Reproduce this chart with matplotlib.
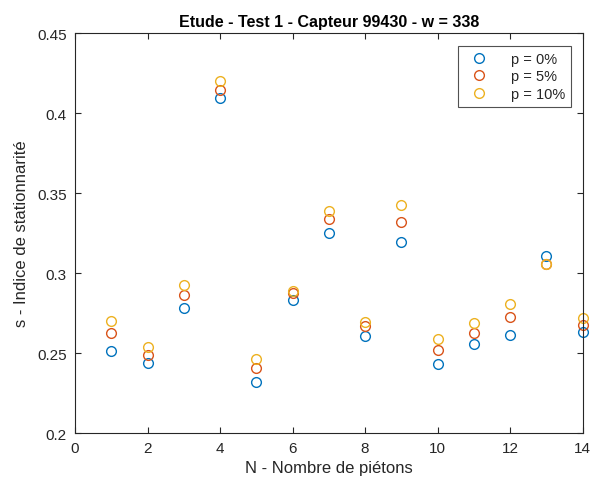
import matplotlib
matplotlib.use("Agg")
import matplotlib.pyplot as plt
import numpy as np

N = [1, 2, 3, 4, 5, 6, 7, 8, 9, 10, 11, 12, 13, 14]
s_p0 = [0.251, 0.244, 0.278, 0.4096, 0.2321, 0.2831, 0.3252, 0.2608, 0.3194, 0.2429, 0.2556, 0.2613, 0.3108, 0.2633]
s_p5 = [0.2623, 0.2489, 0.2865, 0.4146, 0.2408, 0.2873, 0.3338, 0.2671, 0.3321, 0.2521, 0.2627, 0.2723, 0.3055, 0.2677]
s_p10 = [0.270, 0.2535, 0.2925, 0.4202, 0.2465, 0.2886, 0.3388, 0.2696, 0.3425, 0.2588, 0.2688, 0.2808, 0.3054, 0.2721]
labels = ["p = 0%", "p = 5%", "p = 10%"]
colors = [(0, 0.447, 0.741), (0.85, 0.325, 0.098), (0.929, 0.694, 0.125)]

plt.rcParams['font.family'] = ['Liberation Sans', 'DejaVu Sans']
fig = plt.figure(figsize=(6.03, 4.81), dpi=100)
ax = fig.add_axes([0.1244, 0.0977, 0.8419, 0.8316])

for ys, lab, c in zip([s_p0, s_p5, s_p10], labels, colors):
    ax.plot(N, ys, linestyle='none', marker='o', markersize=7, markerfacecolor='none',
            markeredgecolor=c, markeredgewidth=1.0, label=lab, clip_on=False)

ax.set_xlim(0, 14)
ax.set_ylim(0.2, 0.45)
ax.set_xticks(np.arange(0, 15, 2))
ax.set_yticks([0.2, 0.25, 0.3, 0.35, 0.4, 0.45])
ax.set_yticklabels(["0.2", "0.25", "0.3", "0.35", "0.4", "0.45"])
gray = (0.15, 0.15, 0.15)
ax.tick_params(direction='in', top=True, right=True, length=4, width=0.8,
               labelsize=11, colors=gray, labelcolor=gray, pad=6)
for sp in ax.spines.values():
    sp.set_color(gray)
    sp.set_linewidth(0.8)

ax.set_title("Etude - Test 1 - Capteur 99430 - w = 338", fontsize=11.5, fontweight='bold', color='black', pad=5)
ax.set_xlabel("N - Nombre de piétons", fontsize=12, color=gray, labelpad=3)
ax.set_ylabel("s - Indice de stationnarité", fontsize=12, color=gray, labelpad=6)

leg = ax.legend(loc='upper right', bbox_to_anchor=(0.9764, 0.9675), borderaxespad=0,
                fontsize=10.5, frameon=True, fancybox=False, edgecolor=gray,
                handletextpad=1.2, borderpad=0.4, labelspacing=0.25, handlelength=2.0)
leg.get_frame().set_linewidth(0.8)
for t in leg.get_texts():
    t.set_color(gray)

fig.savefig("out.png", dpi=100, facecolor='white')
